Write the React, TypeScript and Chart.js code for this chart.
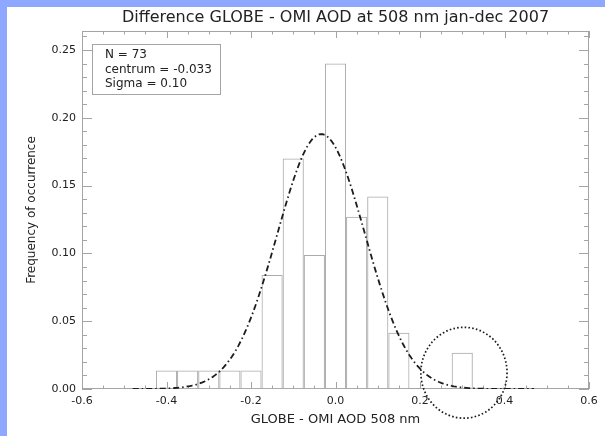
import React, { useEffect, useRef } from "react";
import { Chart, registerables } from "chart.js";

Chart.register(...registerables);

// ---- text ----
const TITLE = "Difference GLOBE - OMI AOD at 508 nm jan-dec 2007";
const X_TITLE = "GLOBE - OMI AOD 508 nm";
const Y_TITLE = "Frequency of occurrence";
const STATS_LINES = ["N = 73", "centrum = -0.033", "Sigma = 0.10"];

// ---- histogram (bin centres, bin width 0.05) ----
const BIN_WIDTH = 0.05;
const BIN_CENTERS = [-0.4, -0.35, -0.3, -0.25, -0.2, -0.15, -0.1, -0.05, 0.0, 0.05, 0.1, 0.15, 0.2, 0.25, 0.3];
const FREQUENCIES: (number | null)[] = [
  0.0137, 0.0137, 0.0137, 0.0137, 0.0137, 0.084, 0.17, 0.0988, 0.24, 0.127, 0.142, 0.0415, null, null, 0.0268,
];

// ---- gaussian fit parameters ----
const FIT_AMPLITUDE = 0.188;
const FIT_CENTER = -0.034;
const FIT_SIGMA = 0.104;
const FIT_X_START = -0.48;
const FIT_X_END = 0.47;
const FIT_STEP = 0.005;

// ---- axes ----
const X_RANGE = [-0.6, 0.6];
const Y_RANGE = [0, 0.264];
const X_TICKS = [-0.6, -0.4, -0.2, 0, 0.2, 0.4, 0.6];
const Y_TICKS = [0, 0.05, 0.1, 0.15, 0.2, 0.25];
const X_MINOR_STEP = 0.05;
const Y_MINOR_STEP = 0.01;

// ---- highlight circle (data units) ----
const CIRCLE_CENTER = { x: 0.304, y: 0.012 };
const CIRCLE_RADIUS = { x: 0.102, y: 0.0335 };

// ---- styles ----
const FONT = "'DejaVu Sans', 'Liberation Sans', sans-serif";
const TEXT_COLOR = "#222222";
const AXIS_COLOR = "#a4a4a4";
const BAR_COLOR = "#ababab";
const CURVE_COLOR = "#1c1c1c";
const BLUE = "#8fa8ff";

function fitPoints() {
  const pts: { x: number; y: number }[] = [];
  const n = Math.round((FIT_X_END - FIT_X_START) / FIT_STEP);
  for (let i = 0; i <= n; i++) {
    const x = FIT_X_START + i * FIT_STEP;
    const d = x - FIT_CENTER;
    pts.push({ x, y: FIT_AMPLITUDE * Math.exp(-(d * d) / (2 * FIT_SIGMA * FIT_SIGMA)) });
  }
  return pts;
}

const framePlugin = {
  id: "idlFrame",
  beforeDatasetsDraw(chart: any) {
    const { ctx, chartArea: a, scales } = chart;
    const x = scales.x;
    const y = scales.y;
    ctx.save();
    ctx.strokeStyle = AXIS_COLOR;
    ctx.lineWidth = 1;
    ctx.strokeRect(a.left + 0.5, a.top + 0.5, a.right - a.left - 1, a.bottom - a.top - 1);
    ctx.beginPath();
    const nx = Math.round((X_RANGE[1] - X_RANGE[0]) / X_MINOR_STEP);
    for (let i = 0; i <= nx; i++) {
      const v = X_RANGE[0] + i * X_MINOR_STEP;
      const major = X_TICKS.some((t) => Math.abs(t - v) < 1e-6);
      const len = major ? 7 : 3.5;
      const px = Math.round(x.getPixelForValue(v)) + 0.5;
      ctx.moveTo(px, a.bottom);
      ctx.lineTo(px, a.bottom - len);
      ctx.moveTo(px, a.top);
      ctx.lineTo(px, a.top + len);
    }
    const ny = Math.floor((Y_RANGE[1] - Y_RANGE[0]) / Y_MINOR_STEP + 1e-6);
    for (let i = 0; i <= ny; i++) {
      const v = Y_RANGE[0] + i * Y_MINOR_STEP;
      const major = Y_TICKS.some((t) => Math.abs(t - v) < 1e-6);
      const len = major ? 10 : 5;
      const py = Math.round(y.getPixelForValue(v)) + 0.5;
      ctx.moveTo(a.left, py);
      ctx.lineTo(a.left + len, py);
      ctx.moveTo(a.right, py);
      ctx.lineTo(a.right - len, py);
    }
    ctx.stroke();
    ctx.restore();
  },
  afterDraw(chart: any) {
    const { ctx, chartArea: a, scales } = chart;
    const x = scales.x;
    const y = scales.y;
    ctx.save();
    // title
    ctx.fillStyle = TEXT_COLOR;
    ctx.font = `16px ${FONT}`;
    ctx.textAlign = "center";
    ctx.textBaseline = "middle";
    ctx.fillText(TITLE, (a.left + a.right) / 2, 18);

    // stats box
    const bx = a.left + 10;
    const by = a.top + 13;
    ctx.strokeStyle = AXIS_COLOR;
    ctx.lineWidth = 1;
    ctx.strokeRect(Math.round(bx) + 0.5, Math.round(by) + 0.5, 128, 50);
    ctx.font = `12px ${FONT}`;
    ctx.textAlign = "left";
    ctx.fillStyle = TEXT_COLOR;
    STATS_LINES.forEach((line, i) => {
      ctx.fillText(line, bx + 13, by + 11 + i * 14.5);
    });

    // dotted circle
    const cx = x.getPixelForValue(CIRCLE_CENTER.x);
    const cy = y.getPixelForValue(CIRCLE_CENTER.y);
    const rx = Math.abs(x.getPixelForValue(CIRCLE_CENTER.x + CIRCLE_RADIUS.x) - cx);
    const ry = Math.abs(y.getPixelForValue(CIRCLE_CENTER.y + CIRCLE_RADIUS.y) - cy);
    ctx.beginPath();
    ctx.setLineDash([1.6, 2.2]);
    ctx.strokeStyle = CURVE_COLOR;
    ctx.lineWidth = 1.7;
    ctx.ellipse(cx, cy, rx, ry, 0, 0, Math.PI * 2);
    ctx.stroke();
    ctx.restore();
  },
};

export default function App() {
  const ref = useRef<HTMLCanvasElement>(null);

  useEffect(() => {
    const chart = new Chart(ref.current as HTMLCanvasElement, {
      type: "bar",
      data: {
        datasets: [
          {
            type: "line",
            data: fitPoints(),
            borderColor: CURVE_COLOR,
            borderWidth: 1.8,
            borderDash: [6, 3, 1.5, 3],
            pointRadius: 0,
            fill: false,
            tension: 0,
            order: 1,
          } as any,
          {
            type: "bar",
            data: BIN_CENTERS.map((c, i) => ({ x: c, y: FREQUENCIES[i] })),
            backgroundColor: "rgba(0,0,0,0)",
            borderColor: BAR_COLOR,
            borderWidth: 1,
            borderSkipped: false,
            barPercentage: 1,
            categoryPercentage: 1,
            inflateAmount: 0,
            order: 2,
          } as any,
        ],
      },
      options: {
        animation: false,
        responsive: false,
        devicePixelRatio: 1,
        layout: { padding: { left: 20.8, right: 16, top: 31, bottom: 4.2 } },
        plugins: {
          legend: { display: false },
          tooltip: { enabled: false },
          title: { display: false },
        },
        scales: {
          x: {
            type: "linear",
            min: X_RANGE[0],
            max: X_RANGE[1],
            offset: false,
            grid: { display: false, drawTicks: false },
            border: { display: false },
            afterBuildTicks: (s: any) => {
              s.ticks = X_TICKS.map((v) => ({ value: v }));
            },
            afterFit: (s: any) => {
              s.height = 42.8;
            },
            ticks: {
              padding: 6,
              autoSkip: false,
              maxRotation: 0,
              color: TEXT_COLOR,
              font: { family: FONT, size: 11 },
              callback: (v: any) => Number(v).toFixed(1),
            },
            title: {
              display: true,
              text: X_TITLE,
              color: TEXT_COLOR,
              font: { family: FONT, size: 13 },
              padding: { top: 4, bottom: 4 },
            },
          },
          y: {
            type: "linear",
            min: Y_RANGE[0],
            max: Y_RANGE[1],
            grid: { display: false, drawTicks: false },
            border: { display: false },
            afterBuildTicks: (s: any) => {
              s.ticks = Y_TICKS.map((v) => ({ value: v }));
            },
            afterFit: (s: any) => {
              s.width = 61.2;
            },
            ticks: {
              padding: 6,
              autoSkip: false,
              color: TEXT_COLOR,
              font: { family: FONT, size: 11 },
              callback: (v: any) => Number(v).toFixed(2),
            },
            title: {
              display: true,
              text: Y_TITLE,
              color: TEXT_COLOR,
              font: { family: FONT, size: 12 },
              padding: { top: 4, bottom: 4 },
            },
          },
        },
      } as any,
      plugins: [framePlugin],
    });
    // make every bar exactly one bin wide, measured on the x scale
    const xs: any = chart.scales.x;
    const binPx = Math.abs(xs.getPixelForValue(BIN_WIDTH) - xs.getPixelForValue(0));
    (chart.data.datasets[1] as any).barThickness = binPx;
    chart.update("none");
    return () => chart.destroy();
  }, []);

  return (
    <div style={{ position: "fixed", left: 0, top: 0, width: 605, height: 436, background: BLUE }}>
      <div style={{ position: "absolute", left: 7, top: 7, width: 598, height: 429, background: "#ffffff" }} />
      <canvas
        ref={ref}
        width={605}
        height={436}
        style={{ position: "absolute", left: 0, top: 0, width: 605, height: 436 }}
      />
    </div>
  );
}
